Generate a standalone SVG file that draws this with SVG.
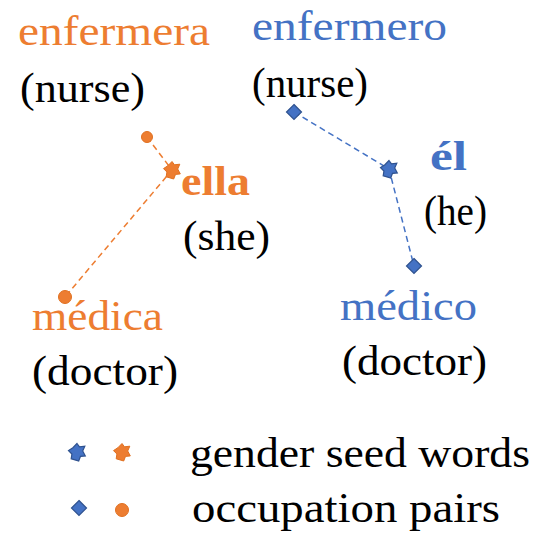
<svg xmlns="http://www.w3.org/2000/svg" width="535" height="542" viewBox="0 0 535 542">
<defs>
<style>
text{font-family:"Liberation Serif","Times New Roman",serif;font-size:42px;}
.or{fill:#ED7D31;}
.bl{fill:#4472C4;}
.bk{fill:#000;}
.b{font-weight:bold;}
.ln{fill:none;stroke-width:1.5;stroke-dasharray:6 4;}
.lo{stroke:#ED7D31;}
.lb{stroke:#4472C4;}
.mo{fill:#ED7D31;stroke:#E07020;stroke-width:1;}
.mb{fill:#4472C4;stroke:#2F528F;stroke-width:1.2;}
</style>
<polygon id="star" points="0,-8.5 2.5,-5.2 7.8,-5.8 5.7,-1.0 8.3,3.9 3.5,4.4 1.7,9.0 -2.0,7.9 -5.8,6.8 -5.1,2.0 -8.5,-1.4 -4.1,-4.3"/>
<polygon id="dia" points="0,-7.5 7.5,0 0,7.5 -7.5,0"/>
</defs>
<g id="connectors">
<polyline class="ln lo" points="147,137 172,170 65,297"/>
<polyline class="ln lb" points="294,112 389,169 414,266"/>
</g>
<g id="enfermera"><text class="or" x="18" y="45" textLength="192" lengthAdjust="spacingAndGlyphs">enfermera</text><text class="bk" x="20" y="102" textLength="125" lengthAdjust="spacingAndGlyphs">(nurse)</text><circle class="mo" cx="147" cy="137" r="5.5"/></g>
<g id="ella"><text class="or b" x="181" y="195" textLength="69" lengthAdjust="spacingAndGlyphs">ella</text><text class="bk" x="183" y="250" textLength="87" lengthAdjust="spacingAndGlyphs">(she)</text><use href="#star" class="mo" x="172" y="170"/></g>
<g id="medica"><text class="or" x="32" y="330" textLength="131" lengthAdjust="spacingAndGlyphs">médica</text><text class="bk" x="32" y="385" textLength="146" lengthAdjust="spacingAndGlyphs">(doctor)</text><circle class="mo" cx="65" cy="297" r="6.5"/></g>
<g id="enfermero"><text class="bl" x="252" y="40" textLength="195" lengthAdjust="spacingAndGlyphs">enfermero</text><text class="bk" x="252" y="97" textLength="116" lengthAdjust="spacingAndGlyphs">(nurse)</text><use href="#dia" class="mb" x="294" y="112"/></g>
<g id="el"><text class="bl b" x="430" y="170" textLength="37" lengthAdjust="spacingAndGlyphs">él</text><text class="bk" x="424" y="225" textLength="63" lengthAdjust="spacingAndGlyphs">(he)</text><use href="#star" class="mb" x="389" y="169"/></g>
<g id="medico"><text class="bl" x="340" y="320" textLength="137" lengthAdjust="spacingAndGlyphs">médico</text><text class="bk" x="342" y="375" textLength="145" lengthAdjust="spacingAndGlyphs">(doctor)</text><use href="#dia" class="mb" x="414" y="266"/></g>
<g id="legend">
<use href="#star" class="mb" x="77" y="452"/><use href="#star" class="mo" x="122" y="452"/>
<text class="bk" x="190" y="467" textLength="340" lengthAdjust="spacingAndGlyphs">gender seed words</text>
<use href="#dia" class="mb" x="79" y="508"/><circle class="mo" cx="122" cy="510" r="6.5"/>
<text class="bk" x="192" y="522" textLength="308" lengthAdjust="spacingAndGlyphs">occupation pairs</text>
</g>
</svg>
